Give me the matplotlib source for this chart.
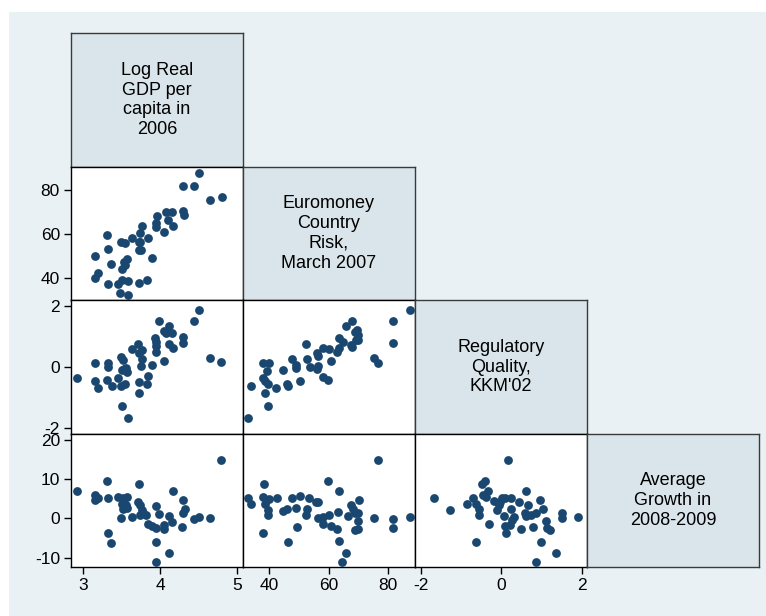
import matplotlib.pyplot as plt
from matplotlib.patches import Rectangle

plt.rcParams['font.family'] = ['Liberation Sans', 'DejaVu Sans']
plt.rcParams['axes.unicode_minus'] = False

# variable names shown on the diagonal
var_labels = [
    "Log Real\nGDP per\ncapita in\n2006",
    "Euromoney\nCountry\nRisk,\nMarch 2007",
    "Regulatory\nQuality,\nKKM'02",
    "Average\nGrowth in\n2008-2009",
]

x_ticks = [[3, 4, 5], [40, 60, 80], [-2, 0, 2]]
y_ticks = [None, [40, 60, 80], [-2, 0, 2], [-10, 0, 10, 20]]
x_lims = [(2.845, 5.074), (31.1, 89.2), (-2.14, 2.13)]
y_lims = [None, (30.05, 90.5), (-2.18, 2.19), (-12.45, 21.6)]

# Euromoney (y) against log GDP (x)
euro_vs_gdp_x = [4.50, 4.29, 4.44, 4.64, 4.80, 4.16, 4.07, 3.96, 4.29, 4.31,
                 4.10, 3.95, 3.95, 4.17, 4.05, 3.76, 3.74, 3.63, 3.84, 3.31,
                 3.49, 3.54, 3.72, 3.74, 3.32, 3.72, 3.75, 3.15, 3.89, 3.57,
                 3.53, 3.36, 3.54, 3.51, 3.20, 3.15, 3.32, 3.46, 3.50, 3.58,
                 3.73, 3.83, 3.48, 3.58]
euro_vs_gdp_y = [87.8, 81.8, 81.8, 75.6, 76.8, 70.2, 70.0, 68.2, 70.3, 68.6,
                 66.4, 65.2, 63.4, 63.7, 60.9, 63.6, 60.4, 58.4, 58.4, 59.6,
                 56.6, 55.9, 56.5, 56.4, 53.4, 52.7, 52.8, 50.1, 49.2, 48.8,
                 47.6, 46.4, 46.1, 44.3, 42.3, 40.0, 37.6, 37.5, 39.3, 39.0,
                 38.1, 39.3, 33.5, 32.6]

# Regulatory quality (y) against log GDP (x)
reg_vs_gdp_x = [2.92, 3.15, 3.15, 3.20, 3.32, 3.32, 3.31, 3.37, 3.46, 3.49,
                3.52, 3.51, 3.56, 3.57, 3.49, 3.54, 3.50, 3.58, 3.63, 3.71,
                3.72, 3.76, 3.76, 3.75, 3.73, 3.73, 3.84, 3.83, 3.89, 3.94,
                3.95, 3.95, 3.95, 3.98, 4.05, 4.11, 4.08, 4.16, 4.11, 4.17,
                4.05, 4.29, 4.30, 4.44, 4.50, 4.64, 4.79, 3.53]
reg_vs_gdp_y = [-0.35, 0.13, -0.44, -0.68, 0.13, 0.02, -0.42, -0.63, -0.36, 0.35,
                0.24, -0.09, -0.03, -0.16, -0.61, -0.55, -1.26, -1.67, 0.61, 0.75,
                0.48, 0.57, 0.27, 0.04, -0.47, -0.83, -0.28, -0.55, 0.08, 0.97,
                0.84, 0.51, 0.70, 1.50, 1.20, 1.36, 1.13, 1.11, 0.76, 0.62,
                0.20, 0.80, 1.00, 1.50, 1.87, 0.30, 0.16, -0.05]

# Growth (y) against log GDP (x)
growth_vs_gdp_x = [2.92, 3.31, 3.15, 3.15, 3.20, 3.32, 3.32, 3.36, 3.49, 3.46,
                   3.52, 3.57, 3.51, 3.56, 3.52, 3.57, 3.63, 3.73, 3.71, 3.74,
                   3.76, 3.74, 3.78, 3.82, 3.84, 3.89, 3.95, 3.95, 3.98, 3.95,
                   3.95, 4.05, 4.05, 4.11, 4.11, 4.16, 4.17, 4.29, 4.32, 4.29,
                   4.28, 4.44, 4.50, 4.64, 4.79]
growth_vs_gdp_y = [7.0, 9.5, 5.9, 4.7, 5.3, 5.1, -3.7, -6.2, 0.0, 5.5,
                   5.3, 5.5, 3.8, 3.4, 2.5, 2.6, 0.4, 8.9, 4.1, 3.4,
                   2.1, 0.8, 1.3, 1.0, -1.3, -2.0, -2.4, 3.2, 1.2, -6.0,
                   -11.1, -1.7, -2.7, -8.9, 0.6, -0.9, 7.0, 4.7, 2.5, 1.3,
                   -2.2, -0.2, 0.4, 0.0, 14.9]

# Regulatory quality (y) against Euromoney (x)
reg_vs_euro_x = [32.9, 33.7, 37.8, 40.0, 39.2, 37.8, 38.5, 39.7, 38.5, 39.5,
                 42.4, 44.5, 45.9, 46.4, 47.6, 49.0, 49.0, 50.4, 52.4, 52.7,
                 53.8, 56.0, 56.6, 56.2, 56.3, 58.2, 60.2, 60.7, 58.2, 59.7,
                 63.0, 63.6, 63.6, 65.0, 65.9, 68.0, 67.5, 68.0, 69.0, 69.9,
                 70.1, 69.4, 69.6, 75.4, 76.6, 81.6, 81.6, 87.4]
reg_vs_euro_y = [-1.67, -0.60, 0.13, 0.13, -0.14, -0.36, -0.44, -0.56, -0.83, -1.26,
                 -0.67, -0.09, -0.56, -0.63, 0.26, 0.08, -0.03, -0.44, 0.75, 0.27,
                 0.02, -0.06, 0.04, 0.46, 0.37, 0.62, 0.60, 0.21, -0.31, -0.42,
                 0.49, 0.62, 0.97, 0.84, 1.35, 1.50, 0.73, 0.66, 1.16, 1.06,
                 0.89, 0.89, 1.22, 0.29, 0.15, 1.50, 0.80, 1.87]

# Growth (y) against Euromoney (x)
growth_vs_euro_x = [32.9, 33.7, 38.2, 37.8, 40.0, 38.5, 39.5, 39.5, 37.8, 42.5,
                    44.5, 45.9, 46.4, 47.6, 49.0, 49.2, 50.4, 52.6, 52.4, 53.5,
                    55.8, 56.4, 56.3, 58.0, 58.2, 59.7, 60.2, 60.8, 63.0, 63.3,
                    63.6, 63.6, 65.9, 64.7, 66.5, 67.6, 68.4, 69.0, 69.9, 70.3,
                    70.1, 70.1, 69.0, 75.4, 76.6, 81.6, 81.6, 87.4]
growth_vs_euro_y = [5.3, 3.8, 8.9, 5.5, 4.9, 3.8, 2.1, 1.0, -3.7, 5.3,
                    1.9, 2.4, -6.1, 5.3, 2.7, -2.1, 5.8, 2.5, 0.8, 5.3,
                    4.1, 4.2, 0.2, 0.4, -1.5, 9.5, 1.0, -1.9, -2.6, 1.7,
                    7.0, -5.8, -8.9, -11.1, 0.7, 3.4, 2.5, 1.5, 1.3, 4.7,
                    -0.7, -2.6, -3.0, 0.0, 14.9, -0.2, -2.3, 0.4]

# Growth (y) against regulatory quality (x)
growth_vs_reg_x = [-1.68, -1.28, -0.85, -0.69, -0.62, -0.56, -0.55, -0.63, -0.48, -0.41,
                   -0.46, -0.37, -0.33, -0.30, -0.17, -0.11, -0.05, 0.02, -0.03, 0.06,
                   0.10, 0.12, 0.21, 0.16, 0.10, 0.25, 0.25, 0.33, 0.28, 0.45,
                   0.50, 0.62, 0.66, 0.58, 0.61, 0.75, 0.86, 0.80, 0.97, 1.04,
                   0.99, 0.86, 1.12, 1.13, 1.22, 1.36, 1.51, 1.51, 1.90]
growth_vs_reg_y = [5.3, 2.1, 3.8, 5.3, 3.8, 2.4, 1.0, -6.1, 8.9, 9.5,
                   5.9, 5.5, 7.0, -1.3, 4.4, 2.1, 3.4, 5.3, 4.2, 0.7,
                   -1.9, -3.7, -1.7, 14.9, 5.1, 5.3, 2.5, 0.4, -0.4, 4.1,
                   -2.6, 7.0, 3.4, 1.5, 0.7, 0.8, 1.3, -2.1, 4.7, 2.5,
                   -6.0, -11.1, -0.7, -2.4, -3.0, -8.9, 1.3, 0.0, 0.4]

# (row, col) -> points of that cell
panels = {
    (1, 0): (euro_vs_gdp_x, euro_vs_gdp_y),
    (2, 0): (reg_vs_gdp_x, reg_vs_gdp_y),
    (3, 0): (growth_vs_gdp_x, growth_vs_gdp_y),
    (2, 1): (reg_vs_euro_x, reg_vs_euro_y),
    (3, 1): (growth_vs_euro_x, growth_vs_euro_y),
    (3, 2): (growth_vs_reg_x, growth_vs_reg_y),
}

W, H = 766, 616
fig = plt.figure(figsize=(W / 100, H / 100), dpi=100, facecolor='#eaf1f4')
# white strip along the top and left edge
fig.patches.append(Rectangle((0, 1 - 12 / H), 1, 12 / H, transform=fig.transFigure,
                             facecolor='white', edgecolor='none', zorder=0))
fig.patches.append(Rectangle((0, 0), 9 / W, 1, transform=fig.transFigure,
                             facecolor='white', edgecolor='none', zorder=0))

cell_w, cell_h = 172, 133.5
x0, y0 = 71, 33.3
navy = '#1a476f'

for i in range(4):
    for j in range(i + 1):
        ax = fig.add_axes([(x0 + cell_w * j) / W,
                           1 - (y0 + cell_h * (i + 1)) / H,
                           cell_w / W, cell_h / H])
        for sp in ax.spines.values():
            sp.set_linewidth(1.0)
            sp.set_color('black')
        ax.tick_params(direction='out', length=5, width=1, labelsize=12.5,
                       pad=3, colors='black')
        if i == j:
            ax.set_facecolor('#d9e5eb')
            for sp in ax.spines.values():
                sp.set_color('#3a3a3a')
            ax.text(0.5, 0.5, var_labels[i], ha='center', va='center',
                    fontsize=13, linespacing=1.22, transform=ax.transAxes)
            ax.set_xticks([])
            ax.set_yticks([])
            continue
        ax.set_facecolor('white')
        xs, ys = panels[(i, j)]
        ax.scatter(xs, ys, s=40, color=navy, linewidths=0, clip_on=False, zorder=3)
        ax.set_xlim(*x_lims[j])
        ax.set_ylim(*y_lims[i])
        if j == 0:
            ax.set_yticks(y_ticks[i])
        else:
            ax.set_yticks([])
        if i == 3:
            ax.set_xticks(x_ticks[j])
        else:
            ax.set_xticks([])

fig.savefig('out.png', dpi=100, facecolor=fig.get_facecolor())
